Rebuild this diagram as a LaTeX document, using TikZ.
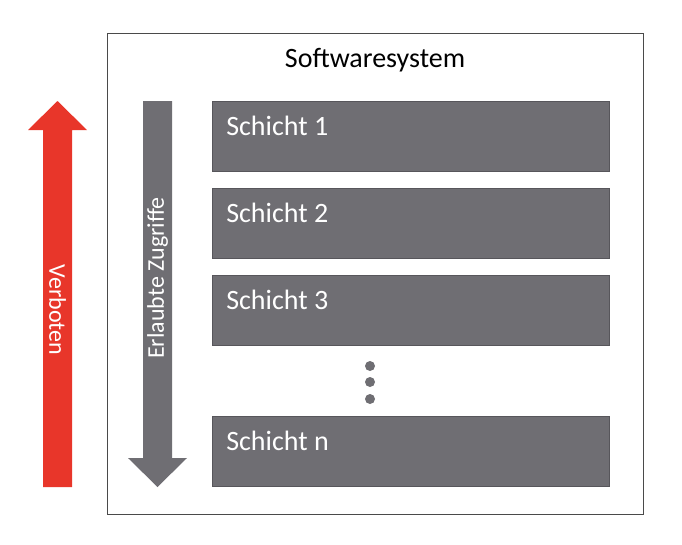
\documentclass[tikz,border=0pt]{standalone}
\usepackage{fontspec}
\setmainfont{Carlito}
\usetikzlibrary{positioning}

\definecolor{layergrey}{HTML}{6F6E73}
\definecolor{layerborder}{HTML}{57565B}
\definecolor{forbidred}{HTML}{E8362A}
\definecolor{frameline}{HTML}{4A4A4A}

\begin{document}
\begin{tikzpicture}[
	x=0.75pt, y=-0.75pt,
	system/.style={draw=frameline, line width=1.1pt, minimum width=402pt, minimum height=360.75pt, inner sep=0pt},
	layer/.style={draw=layerborder, line width=1pt, fill=layergrey, minimum width=297.75pt, minimum height=52.5pt, inner sep=0pt},
	layertext/.style={text=white, font=\fontsize{21}{25}\selectfont, inner sep=0pt},
	dot/.style={circle, fill=layergrey, minimum size=7.5pt, inner sep=0pt},
	arrowtext/.style={text=white, font=\fontsize{18}{22}\selectfont, inner sep=0pt}
	]
	\useasboundingbox (0,0) rectangle (682,544);
	
	% Softwaresystem frame
	\node[system, anchor=north west] (sys) at (107,33) {};
	\node[font=\fontsize{21}{25}\selectfont, anchor=base, inner sep=0pt] (title) at (375,67) {Softwaresystem};
	
	% Layers
	\foreach \t/\y in {1/101,2/188,3/275,n/416} {
		\node[layer, anchor=north west] (s\t) at (212,\y) {};
		\node[layertext, anchor=base west] (l\t) at ([xshift=10.5pt,yshift=-26pt]s\t.north west) {Schicht \t};
	}
	
	% Dots
	\foreach \i/\y in {1/366,2/382,3/399}
		\node[dot] (d\i) at (370,\y) {};
	
	% Allowed access (down)
	\fill[layergrey] (143,101) -- (172,101) -- (172,458) -- (187,458) -- (157.5,487) -- (128,458) -- (143,458) -- cycle;
	\node[arrowtext, rotate=90] (allowed) at (157.5,278) {Erlaubte Zugriffe};
	
	% Forbidden access (up)
	\fill[forbidred] (43,487) -- (43,130) -- (28,130) -- (57.5,101) -- (87,130) -- (72,130) -- (72,487) -- cycle;
	\node[arrowtext, rotate=-90] (forbidden) at (57.5,310) {Verboten};
	
\end{tikzpicture}
\end{document}
